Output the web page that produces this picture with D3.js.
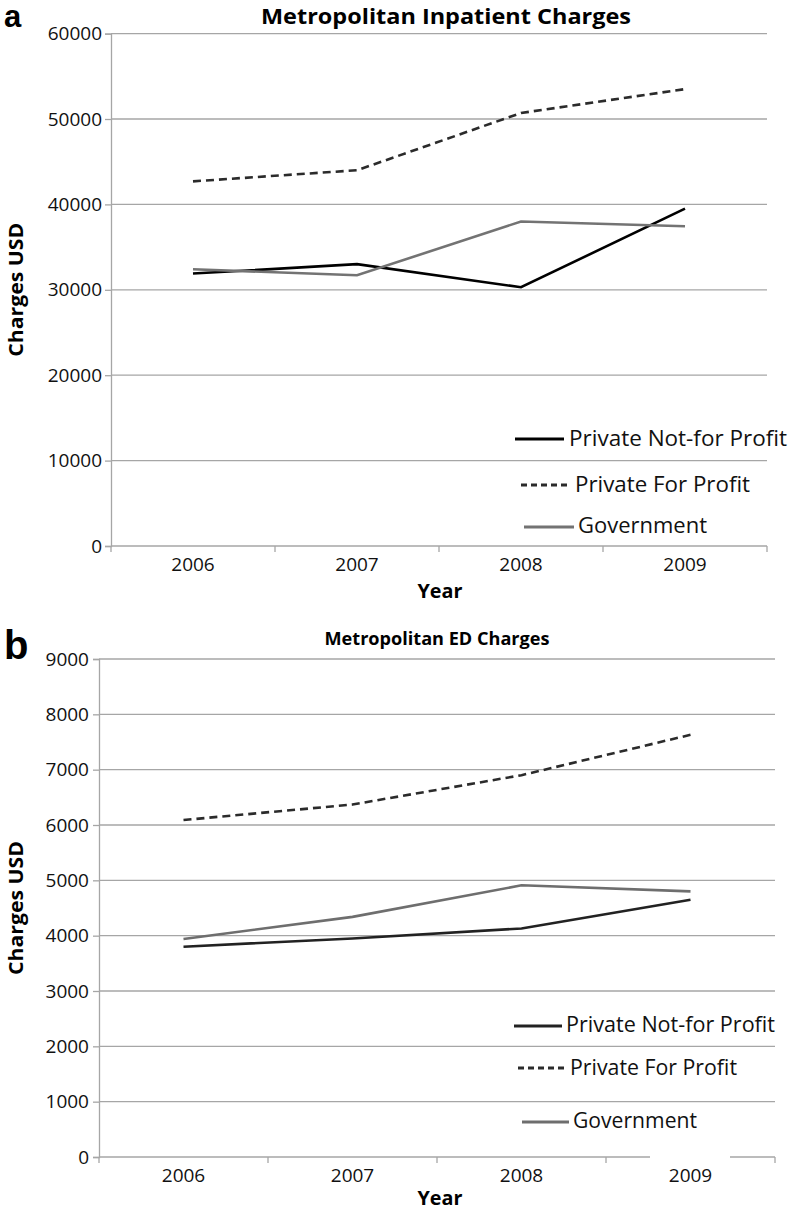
<!DOCTYPE html>
<html><head><meta charset="utf-8">
<script src="https://cdn.jsdelivr.net/npm/d3@7"></script>
<style>body{margin:0;background:#fff}svg{display:block}</style>
</head><body>
<svg id="c" width="792" height="1210"></svg>
<script>
const years = ["2006","2007","2008","2009"];
const seriesNames = ["Private Not-for Profit","Private For Profit","Government"];
// Panel a: Metropolitan Inpatient Charges
const inpatientNotForProfit = [31900, 33000, 30300, 39500];
const inpatientForProfit    = [42700, 44000, 50700, 53500];
const inpatientGovernment   = [32400, 31700, 38000, 37450];
const inpatientTicks = [0,10000,20000,30000,40000,50000,60000];
// Panel b: Metropolitan ED Charges
const edNotForProfit = [3800, 3950, 4130, 4650];
const edForProfit    = [6090, 6370, 6900, 7630];
const edGovernment   = [3940, 4340, 4910, 4800];
const edTicks = [0,1000,2000,3000,4000,5000,6000,7000,8000,9000];

const svg = d3.select("#c");
const FONT = "'Open Sans', 'Noto Sans', sans-serif";
const GRID = "#a6a6a6";
const styles = [
  {dash:null, w:2.6},
  {dash:"8,5", w:2.6},
  {dash:null, w:2.6}
];

function panel(o){
  const g = svg.append("g");
  const x = d3.scaleBand().domain(years).range([o.x0, o.x1]).padding(0);
  const y = d3.scaleLinear().domain([0, o.max]).range([o.y1, o.y0]);

  // y axis with ticks
  const ya = g.append("g").attr("transform", `translate(${o.x0},0)`)
    .call(d3.axisLeft(y).tickValues(o.ticks).tickSize(6).tickPadding(o.tickPad).tickFormat(d3.format("d")));
  ya.select(".domain").attr("stroke", GRID).attr("stroke-width",1.3);
  ya.selectAll(".tick line").attr("stroke", GRID).attr("stroke-width",1.3);
  ya.selectAll(".tick text").attr("font-family", FONT).attr("font-size", 19).attr("fill","#111");
  // gridlines
  g.append("g").selectAll("line").data(o.ticks.filter(t=>t>0)).join("line")
    .attr("x1", o.x0).attr("x2", o.x1).attr("y1", d=>y(d)).attr("y2", d=>y(d))
    .attr("stroke", GRID).attr("stroke-width", 1.3);

  // x axis
  g.append("line").attr("x1", o.x0).attr("x2", o.x1).attr("y1", o.y1).attr("y2", o.y1)
    .attr("stroke", GRID).attr("stroke-width", 1.3);
  const bounds = years.map(d=>x(d)).concat([o.x1]);
  g.append("g").selectAll("line").data(bounds).join("line")
    .attr("x1", d=>d).attr("x2", d=>d).attr("y1", o.y1).attr("y2", o.y1+6)
    .attr("stroke", GRID).attr("stroke-width", 1.3);
  if (o.gap) {
    g.append("rect").attr("x", o.gap[0]).attr("y", o.y1-2).attr("width", o.gap[1]-o.gap[0]).attr("height", 5).attr("fill","#fff");
  }
  g.append("g").selectAll("text").data(years).join("text")
    .attr("x", d=>x(d)+x.bandwidth()/2).attr("y", o.xLabelY)
    .attr("text-anchor","middle").attr("font-family", FONT).attr("font-size", 19).attr("fill","#111")
    .text(d=>d);

  // lines
  const line = d3.line().x((d,i)=>x(years[i])+x.bandwidth()/2).y(d=>y(d));
  o.data.forEach((vals,i)=>{
    const s = styles[i];
    g.append("path").datum(vals).attr("d", line).attr("fill","none")
      .attr("stroke", o.colors[i]).attr("stroke-width", s.w).attr("stroke-dasharray", s.dash)
      .attr("stroke-linejoin","miter");
  });

  // titles
  g.append("text").attr("x", o.titleX).attr("y", o.titleY).attr("text-anchor","middle")
    .attr("font-family", FONT).attr("font-weight","bold").attr("font-size", o.titleSize)
    .attr("textLength", o.titleLen).attr("lengthAdjust","spacingAndGlyphs").attr("fill","#000")
    .text(o.title);
  g.append("text").attr("x", 4).attr("y", o.letterY).attr("font-family","'Liberation Sans', Arial, sans-serif")
    .attr("font-weight","bold").attr("font-size", o.letterSize).attr("fill","#000").text(o.letter);
  g.append("text").attr("transform", `translate(23,${(o.y0+o.y1)/2}) rotate(-90)`).attr("text-anchor","middle")
    .attr("font-family", FONT).attr("font-weight","bold").attr("font-size", 20)
    .attr("textLength", 134).attr("lengthAdjust","spacingAndGlyphs").attr("fill","#000").text("Charges USD");
  g.append("text").attr("x", 440).attr("y", o.yearY).attr("text-anchor","middle")
    .attr("font-family", FONT).attr("font-weight","bold").attr("font-size", 20)
    .attr("textLength", 45).attr("lengthAdjust","spacingAndGlyphs").attr("fill","#000").text("Year");

  // legend
  o.legend.forEach((L,i)=>{
    const s = styles[i];
    g.append("line").attr("x1", L.lx0).attr("x2", L.lx1).attr("y1", L.ly).attr("y2", L.ly)
      .attr("stroke", o.colors[i]).attr("stroke-width", 3).attr("stroke-dasharray", s.dash ? "6,4" : null);
    g.append("text").attr("x", L.tx).attr("y", L.ty).attr("font-family", FONT).attr("font-size", 21)
      .attr("textLength", L.tw).attr("lengthAdjust","spacingAndGlyphs").attr("fill","#111").text(seriesNames[i]);
  });
}

panel({
  x0:111, x1:767, y0:33.6, y1:546, max:60000, ticks:inpatientTicks, tickPad:3,
  data:[inpatientNotForProfit, inpatientForProfit, inpatientGovernment],
  colors:["#000","#2b2b2b","#737373"],
  xLabelY:571, yearY:598,
  title:"Metropolitan Inpatient Charges", titleX:446, titleY:24, titleSize:21.5, titleLen:370,
  letter:"a", letterY:27, letterSize:31,
  legend:[
    {lx0:515, lx1:564, ly:439, tx:569, ty:446, tw:218},
    {lx0:521, lx1:571, ly:485, tx:575, ty:492, tw:175},
    {lx0:524, lx1:574, ly:527, tx:578, ty:533, tw:129}
  ]
});

panel({
  x0:99, x1:775, y0:659, y1:1157, max:9000, ticks:edTicks, tickPad:4,
  data:[edNotForProfit, edForProfit, edGovernment],
  colors:["#222","#2b2b2b","#6e6e6e"],
  xLabelY:1182, yearY:1205,
  title:"Metropolitan ED Charges", titleX:437, titleY:645, titleSize:18, titleLen:225,
  letter:"b", letterY:659, letterSize:40, gap:[650,730],
  legend:[
    {lx0:514, lx1:562, ly:1026, tx:566, ty:1032, tw:209},
    {lx0:518, lx1:566, ly:1068, tx:570, ty:1075, tw:167},
    {lx0:522, lx1:569, ly:1122, tx:573, ty:1128, tw:124}
  ]
});
</script>
</body></html>
